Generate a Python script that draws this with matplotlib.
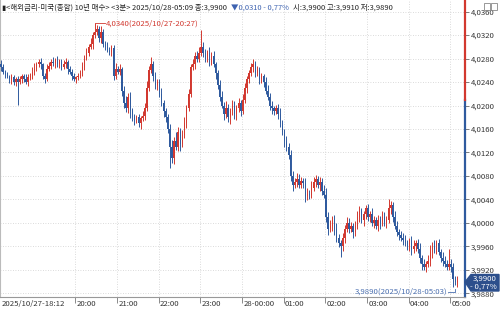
import numpy as np
import matplotlib
matplotlib.use('Agg')
from matplotlib import pyplot as plt
from matplotlib.patches import Polygon, Rectangle
from matplotlib.ticker import FuncFormatter

plt.rcParams['font.family'] = ['Noto Sans CJK KR', 'DejaVu Sans']

# 3-min closes in 0.0001 units, 18:12 .. 05:09
closes = [
    40265, 40258, 40252, 40250, 40245, 40248, 40240, 40245, 40240, 40245,
    40250, 40245, 40240, 40248, 40250, 40258, 40262, 40270, 40275, 40270,
    40250, 40245, 40262, 40268, 40275, 40272, 40278, 40270, 40275, 40265,
    40270, 40275, 40262, 40258, 40250, 40245, 40248, 40250, 40255, 40265,
    40280, 40290, 40300, 40305, 40320, 40325, 40330, 40315, 40325, 40305,
    40300, 40295, 40292, 40298, 40250, 40262, 40258, 40262, 40225, 40205,
    40195, 40215, 40190, 40180, 40175, 40180, 40170, 40178, 40182, 40195,
    40230, 40260, 40270, 40250, 40235, 40240, 40220, 40205, 40190, 40180,
    40160, 40130, 40110, 40140, 40130, 40155, 40135, 40150, 40170, 40195,
    40220, 40265, 40270, 40285, 40280, 40290, 40300, 40290, 40280, 40290,
    40275, 40285, 40270, 40255, 40235, 40215, 40200, 40185, 40195, 40180,
    40190, 40200, 40185, 40195, 40205, 40190, 40210, 40230, 40245, 40255,
    40265, 40270, 40255, 40260, 40245, 40250, 40240, 40225, 40215, 40200,
    40195, 40190, 40195, 40185, 40170, 40155, 40140, 40130, 40115, 40080,
    40065, 40070, 40075, 40065, 40072, 40068, 40045, 40050, 40048, 40060,
    40070, 40075, 40065, 40070, 40055, 40048, 40010, 39990, 39995, 40005,
    39990, 39975, 39965, 39960, 39975, 39990, 40000, 39990, 39995, 39985,
    39995, 40010, 40020, 40005, 40015, 40025, 40010, 40015, 40000, 40005,
    39995, 40005, 40000, 40010, 40000, 40005, 40025, 40030, 40010, 39995,
    39985, 39980, 39975, 39970, 39965, 39960, 39970, 39955, 39960, 39965,
    39955, 39940, 39930, 39925, 39930, 39935, 39950, 39960, 39955, 39965,
    39950, 39940, 39935, 39930, 39925, 39930, 39925, 39905, 39900, 39900,
]
first_open = 40270

upper_wick = [
    8, 5, 3, 6, 2, 5, 4, 3, 5, 6, 4, 3, 8, 5, 6, 8, 10, 5, 4, 6,
    3, 5, 8, 6, 4, 7, 3, 6, 5, 4, 8, 6, 3, 5, 4, 6, 3, 5, 5, 10,
    6, 8, 5, 10, 6, 15, 8, 5, 10, 6, 5, 8, 4, 6, 5, 10, 6, 8, 4, 8,
    12, 6, 8, 5, 6, 4, 6, 5, 8, 10, 12, 8, 12, 6, 8, 6, 5, 10, 4, 6,
    5, 8, 12, 6, 15, 8, 6, 8, 10, 6, 8, 5, 10, 6, 8, 10, 29, 8, 6, 5,
    10, 6, 8, 5, 6, 8, 10, 6, 12, 8, 6, 10, 8, 6, 8, 5, 10, 8, 6, 5,
    8, 10, 6, 8, 5, 6, 4, 8, 10, 6, 8, 5, 6, 8, 10, 6, 5, 8, 6, 10,
    8, 6, 10, 8, 6, 5, 8, 10, 6, 12, 8, 6, 5, 8, 6, 10, 12, 8, 10, 6,
    8, 10, 6, 5, 8, 6, 10, 8, 6, 5, 8, 10, 8, 6, 5, 6, 8, 5, 10, 6,
    5, 8, 6, 10, 8, 6, 15, 8, 6, 10, 8, 5, 6, 8, 10, 6, 5, 8, 10, 6,
    8, 10, 6, 8, 5, 10, 12, 8, 10, 6, 8, 5, 10, 8, 6, 25, 8, 6, 5, 10,
]
lower_wick = [
    6, 4, 5, 3, 6, 8, 5, 6, 39, 4, 6, 5, 3, 6, 4, 5, 6, 3, 5, 8,
    5, 6, 4, 3, 6, 5, 8, 4, 6, 5, 3, 6, 8, 5, 6, 4, 6, 5, 3, 4,
    5, 3, 6, 4, 8, 5, 4, 6, 8, 5, 6, 4, 5, 8, 6, 5, 4, 6, 8, 10,
    6, 8, 12, 6, 8, 5, 6, 10, 5, 6, 4, 6, 5, 8, 6, 8, 5, 6, 10, 8,
    6, 37, 8, 10, 6, 8, 12, 6, 5, 8, 4, 6, 5, 8, 6, 5, 6, 8, 5, 6,
    8, 6, 5, 10, 6, 8, 5, 10, 6, 8, 12, 6, 8, 10, 6, 8, 5, 6, 8, 6,
    5, 8, 6, 5, 8, 6, 8, 5, 6, 8, 10, 6, 5, 8, 6, 5, 10, 8, 6, 8,
    10, 6, 8, 5, 6, 8, 10, 6, 8, 5, 6, 8, 6, 10, 8, 6, 8, 10, 6, 8,
    10, 8, 6, 18, 8, 10, 6, 8, 6, 10, 8, 5, 8, 6, 10, 8, 6, 8, 5, 8,
    6, 8, 10, 5, 6, 8, 6, 10, 8, 6, 8, 10, 6, 8, 5, 6, 8, 10, 6, 8,
    6, 8, 10, 5, 8, 6, 8, 10, 6, 8, 5, 6, 8, 6, 5, 6, 8, 15, 6, 10,
]

hour_idx = [0, 36, 56, 76, 96, 116, 136, 156, 176, 196, 216]
hour_lbl = ['2025/10/27-18:12', '20:00', '21:00', '22:00', '23:00', '28-00:00',
            '01:00', '02:00', '03:00', '04:00', '05:00']
y_ticks = [3.988, 3.992, 3.996, 4.000, 4.004, 4.008, 4.012, 4.016, 4.020,
           4.024, 4.028, 4.032, 4.036]
prev_close = 4.0210
hi_val, hi_idx, hi_txt = 4.0340, 45, '4,0340(2025/10/27-20:27)'
lo_val, lo_idx, lo_txt = 3.9890, 217, '3,9890(2025/10/28-05:03)'

RED = '#d2382f'
BLUE = '#2f5a9e'
FS = 5.6

c = np.array(closes) / 10000.0
o = np.concatenate([[first_open], closes[:-1]]) / 10000.0
hi = np.maximum(o, c) + np.array(upper_wick) / 10000.0
lo = np.minimum(o, c) - np.array(lower_wick) / 10000.0
idx = np.arange(len(c))
up = c >= o
cols = np.where(up, RED, BLUE)

fig = plt.figure(figsize=(5, 3.14), dpi=100)
ax = fig.add_axes([0, 17 / 314, 465 / 500, 297 / 314])
ax.set_xlim(-0.5, 222.7)
ax.set_ylim(3.98737, 4.03799)

# grid
for v in y_ticks:
    ax.axhline(v, color='#cfcfcf', lw=0.6, ls=(0, (1, 2)), zorder=0)
for i in hour_idx[1:]:
    ax.axvline(i - 0.3, color='#cfcfcf', lw=0.6, ls=(0, (1, 2)), zorder=0)

# candles
ax.vlines(idx, lo, hi, colors=cols, lw=0.7, zorder=2)
body = np.maximum(np.abs(c - o), 0.00003)
ax.bar(idx, body, bottom=np.minimum(o, c), width=0.65, color=cols, lw=0, zorder=3)

# high / low marks
ax.plot([hi_idx, hi_idx + 5], [hi_val, hi_val], color=RED, lw=0.6)
ax.text(hi_idx + 5.3, hi_val, hi_txt, color=RED, fontsize=FS, va='center', ha='left')
ly = 3.98823
ax.plot([lo_idx - 2.6, lo_idx + 0.8, lo_idx + 0.8], [ly, ly, lo_val - 0.0002],
        color='#4a6fb0', lw=0.6)
ax.text(lo_idx - 2.8, ly, lo_txt, color='#4a6fb0', fontsize=FS, va='center', ha='right')

# axes look
for s in ['top', 'right']:
    ax.spines[s].set_visible(False)
ax.spines['left'].set_color('#bbbbbb')
ax.spines['bottom'].set_color('#999999')
ax.spines['bottom'].set_linewidth(0.8)
ymin, ymax = ax.get_ylim()
fr = (prev_close - ymin) / (ymax - ymin)
ax.plot([1, 1], [0, fr], transform=ax.transAxes, color=BLUE, lw=1.6, clip_on=False)
ax.plot([1, 1], [fr, 1], transform=ax.transAxes, color=RED, lw=1.6, clip_on=False)

ax.yaxis.tick_right()
ax.set_yticks(y_ticks)
ax.yaxis.set_major_formatter(FuncFormatter(lambda v, p: f'{v:.4f}'.replace('.', ',')))
ax.tick_params(axis='y', length=3, width=0.6, color='#666666', pad=1,
               labelsize=FS, labelcolor='#333333')
ax.set_xticks([i - 0.3 for i in hour_idx[1:]])
ax.set_xticklabels([])
ax.tick_params(axis='x', length=4, width=0.6, color='#777777')
for i, t in zip(hour_idx, hour_lbl):
    ax.text(max(i + 0.3, -0.2), -0.01, t, transform=ax.get_xaxis_transform(),
            ha='left', va='top', fontsize=FS, color='#333333')

# current price tag
def px(x, y):
    return (x / 500, 1 - y / 314)

tag = Polygon([px(465, 282), px(471, 274.5), px(499, 274.5), px(499, 291), px(471, 291)],
              closed=True, transform=fig.transFigure, color='#2c4f8c', zorder=1)
fig.patches.append(tag)
fig.text(*px(497, 278.6), '3,9900', color='white', fontsize=FS, ha='right', va='center', zorder=4)
fig.text(*px(497, 286.8), '- 0,77%', color='white', fontsize=FS, ha='right', va='center', zorder=4)

# header, pieces chained one after the other
HFS = 5.4
t1 = fig.text(*px(2, 8), '▮<해외금리-미국(종합) 10년 매수> <3분> 2025/10/28-05:09 종:3,9900',
              fontsize=HFS, color='#222222', va='center', ha='left')
t2 = fig.text(0, 0, '▼0,0310 - 0,77%', fontsize=HFS, color='#3d62b0', va='center', ha='left')
t3 = fig.text(0, 0, '시:3,9900 고:3,9910 저:3,9890', fontsize=HFS, color='#222222',
              va='center', ha='left')
fig.canvas.draw()
r = fig.canvas.get_renderer()
inv = fig.transFigure.inverted()
y_head = t1.get_position()[1]
b1 = t1.get_window_extent(r)
t2.set_position((inv.transform((b1.x1 + 4, 0))[0], y_head))
fig.canvas.draw()
b2 = t2.get_window_extent(r)
t3.set_position((inv.transform((b2.x1 + 4, 0))[0], y_head))

# window icons
for x0 in (484, 491):
    fig.patches.append(Rectangle(px(x0, 10), 6 / 500, 7 / 314, transform=fig.transFigure,
                                 fill=False, ec='#888888', lw=0.6))

fig.savefig('out.png', dpi=100)
